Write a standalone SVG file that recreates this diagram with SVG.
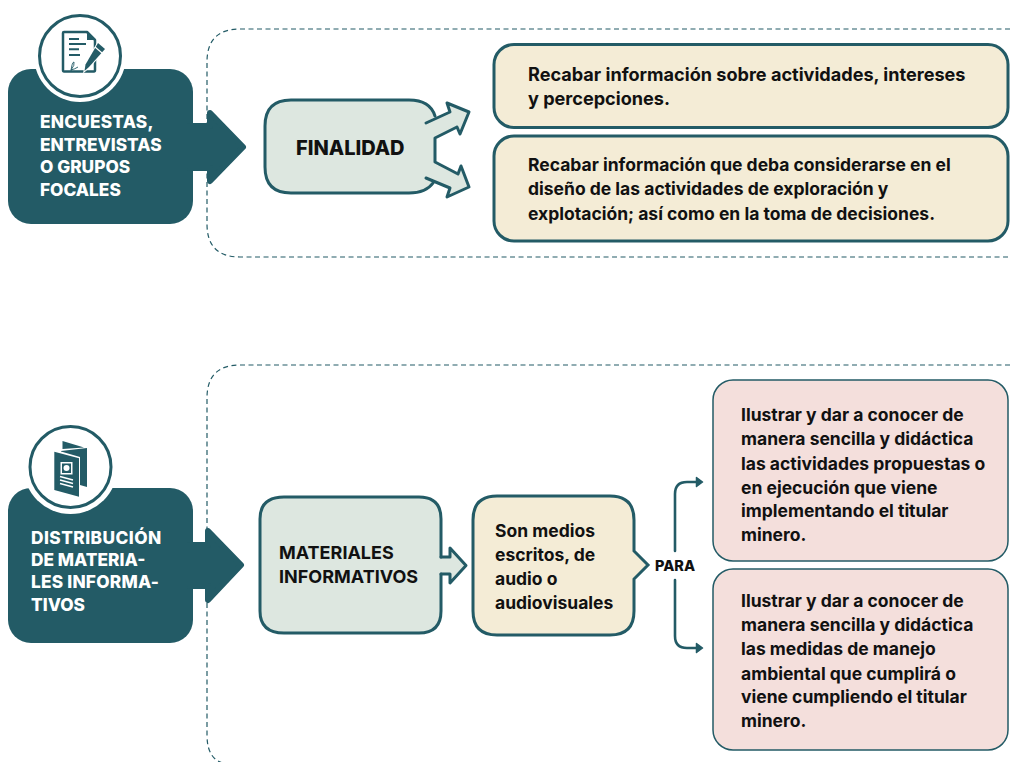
<svg xmlns="http://www.w3.org/2000/svg" width="1010" height="762" viewBox="0 0 1010 762">
<style>
text{font-family:Inter,"Liberation Sans",sans-serif;font-weight:700;fill:#111}
.w{fill:#fff;font-size:17.3px;font-weight:800}
.b{font-size:17.5px}
.h{font-size:18.100px}
.m{font-size:18px}
.dark{fill:#235b66;stroke:#235b66;stroke-width:6;stroke-linejoin:round}
.s{fill:none;stroke:#235b66;stroke-width:3;stroke-linecap:round;stroke-linejoin:round}
.c{fill:none;stroke:#235b66;stroke-width:2.600;stroke-linecap:round}
.dash{fill:none;stroke:#235b66;stroke-width:1.2;stroke-dasharray:5 3.5}
.y{fill:#f4ecd6;stroke:#235b66;stroke-width:3}
.p{fill:#f4dfdc;stroke:#235b66;stroke-width:1.5}
.g{fill:#dde7e0}
.ring{fill:#fff;stroke:#235b66;stroke-width:3}
.ic{fill:#235b66}
.icl{stroke:#fff;stroke-width:1.5;fill:none}
.icd{stroke:#235b66;stroke-width:1.900;fill:none}
</style>
<g id="connectors">
<path class="dash" d="M1010,29H240Q207,29 207,62V224Q207,257 240,257H1010"/>
<path class="dash" d="M1010,365H240Q207,365 207,398V735Q207,762 228,764"/>
<path class="c" d="M675,551V494Q675,482 687,482H698"/>
<path class="c" d="M675,580V636Q675,648 687,648H698"/>
<path class="ic" d="M696.500,477.500L702.500,482L696.500,486.500Z M696.500,643.500L702.500,648L696.500,652.500Z" stroke="#235b66" stroke-width="1.500" stroke-linejoin="round"/>
</g>
<g id="node-encuestas">
<rect x="8" y="69" width="185" height="155" rx="23" fill="#235b66"/>
<path class="dark" d="M190,126H210V113L243,147L210,181V168H190Z"/>
<circle cx="80" cy="56" r="46" fill="#fff"/>
<circle class="ring" cx="80" cy="56" r="40.500"/>
<path d="M87,32H64Q63,32 63,33V70Q63,71.500 64,71.500H94Q95,71.500 95,70V40Z" fill="#fff" stroke="#235b66" stroke-width="2.500" stroke-linejoin="round"/>
<path class="ic" d="M87,31.500L95,40H87Z"/>
<path class="icd" d="M69,39H79M69,44H86M69,49.300H79M69,55H80"/>
<path d="M71,71Q72,62 74,62Q75,65 71,70Q75,69 78,67" fill="none" stroke="#235b66" stroke-width="0.900"/>
<path class="ic" d="M98,43L105,49L89,67L84.500,71L85.500,64.500Z" stroke="#fff" stroke-width="2" paint-order="stroke"/>
<path d="M95,47L102,53" stroke="#fff" stroke-width="1.200"/>
<text class="w" x="40" y="128" letter-spacing=".2">ENCUESTAS,</text>
<text class="w" x="40" y="151">ENTREVISTAS</text>
<text class="w" x="40" y="173">O GRUPOS</text>
<text class="w" x="40" y="196">FOCALES</text>
</g>
<g id="node-finalidad">
<path class="g" d="M291,100H409Q430,100 435,117L425,123L450,112L447,103L469,112L460,134L457,127L435,138V162L458,174L461,166L469,187L447,197L450,188L426,178L435,183Q428,193 409,193H291Q265,193 265,167V126Q265,100 291,100Z"/>
<path class="s" d="M435,116Q430,100 409,100H291Q265,100 265,126V167Q265,193 291,193H409Q426,193 433,183"/>
<path class="s" d="M426,123L450,112L447,103L469,112L460,134L457,127L435,138V162L458,174L461,166L469,187L447,197L450,188L426,178"/>
<text x="296" y="155" style="font-size:20px;font-weight:800">FINALIDAD</text>
</g>
<g id="node-recabar-1">
<rect class="y" x="494" y="44.500" width="514" height="83" rx="20"/>
<text class="h" x="528" y="81">Recabar información sobre actividades, intereses</text>
<text class="h" x="528" y="105">y percepciones.</text>
</g>
<g id="node-recabar-2">
<rect class="y" x="494" y="136" width="514" height="105" rx="20"/>
<text class="b" x="528" y="171">Recabar información que deba considerarse en el</text>
<text class="b" x="528" y="195">diseño de las actividades de exploración y</text>
<text class="b" x="528" y="220">explotación; así como en la toma de decisiones.</text>
</g>
<g id="node-distribucion">
<rect x="8" y="488" width="185" height="155" rx="23" fill="#235b66"/>
<path class="dark" d="M190,545H208V531L241,565L208,600V586H190Z"/>
<circle cx="70.500" cy="467" r="47" fill="#fff"/>
<circle class="ring" cx="70.500" cy="467" r="40.500"/>
<path class="ic" d="M62.500,441L84,447.500L62.500,449Z"/>
<path class="ic" d="M61,451L87,448V487L80,485V457L61,451.500Z"/>
<path class="ic" d="M54.300,451.700L79,458.300V496.700L54.300,490Z"/>
<rect x="60.500" y="462" width="12" height="12.500" fill="#fff"/>
<rect x="62" y="463.500" width="9" height="9.500" class="ic"/>
<circle cx="66.500" cy="468" r="3" fill="#fff"/>
<path class="icl" d="M60,476.500L73,480M60,480L73,483.500M60,483.500L73,487"/>
<text class="w" x="31" y="544" letter-spacing=".45">DISTRIBUCIÓN</text>
<text class="w" x="31" y="566">DE MATERIA-</text>
<text class="w" x="31" y="588" letter-spacing=".2">LES INFORMA-</text>
<text class="w" x="31" y="611">TIVOS</text>
</g>
<g id="node-materiales">
<path class="g" d="M284,497H419Q441,497 441,519V557H450V548L466,565.500L450,583V574H441V611Q441,633 419,633H284Q260,633 260,611V519Q260,497 284,497Z"/>
<path class="s" d="M441,557V519Q441,497 419,497H284Q260,497 260,519V611Q260,633 284,633H419Q441,633 441,611V574"/>
<path class="s" d="M441,557H450V548L466,565.500L450,583V574H441"/>
<text class="m" x="279" y="559">MATERIALES</text>
<text class="m" x="279" y="583">INFORMATIVOS</text>
</g>
<g id="node-medios">
<path class="y" d="M497,496H610Q634,496 634,520V551L648,565L634,579V611Q634,635 610,635H497Q473,635 473,611V520Q473,496 497,496Z"/>
<text class="b" x="495" y="537">Son medios</text>
<text class="b" x="495" y="561">escritos, de</text>
<text class="b" x="495" y="585">audio o</text>
<text class="b" x="495" y="609">audiovisuales</text>
</g>
<g id="label-para">
<text x="655" y="571" style="font-size:14.500px;font-weight:800">PARA</text>
</g>
<g id="node-ilustrar-1">
<rect class="p" x="713" y="380" width="295" height="181" rx="20"/>
<text class="b" x="741" y="421">Ilustrar y dar a conocer de</text>
<text class="b" x="741" y="445">manera sencilla y didáctica</text>
<text class="b" x="741" y="470">las actividades propuestas o</text>
<text class="b" x="741" y="494">en ejecución que viene</text>
<text class="b" x="741" y="517">implementando el titular</text>
<text class="b" x="741" y="541">minero.</text>
</g>
<g id="node-ilustrar-2">
<rect class="p" x="713" y="569" width="295" height="181" rx="20"/>
<text class="b" x="741" y="607">Ilustrar y dar a conocer de</text>
<text class="b" x="741" y="631">manera sencilla y didáctica</text>
<text class="b" x="741" y="655">las medidas de manejo</text>
<text class="b" x="741" y="680">ambiental que cumplirá o</text>
<text class="b" x="741" y="703">viene cumpliendo el titular</text>
<text class="b" x="741" y="727">minero.</text>
</g>
</svg>
